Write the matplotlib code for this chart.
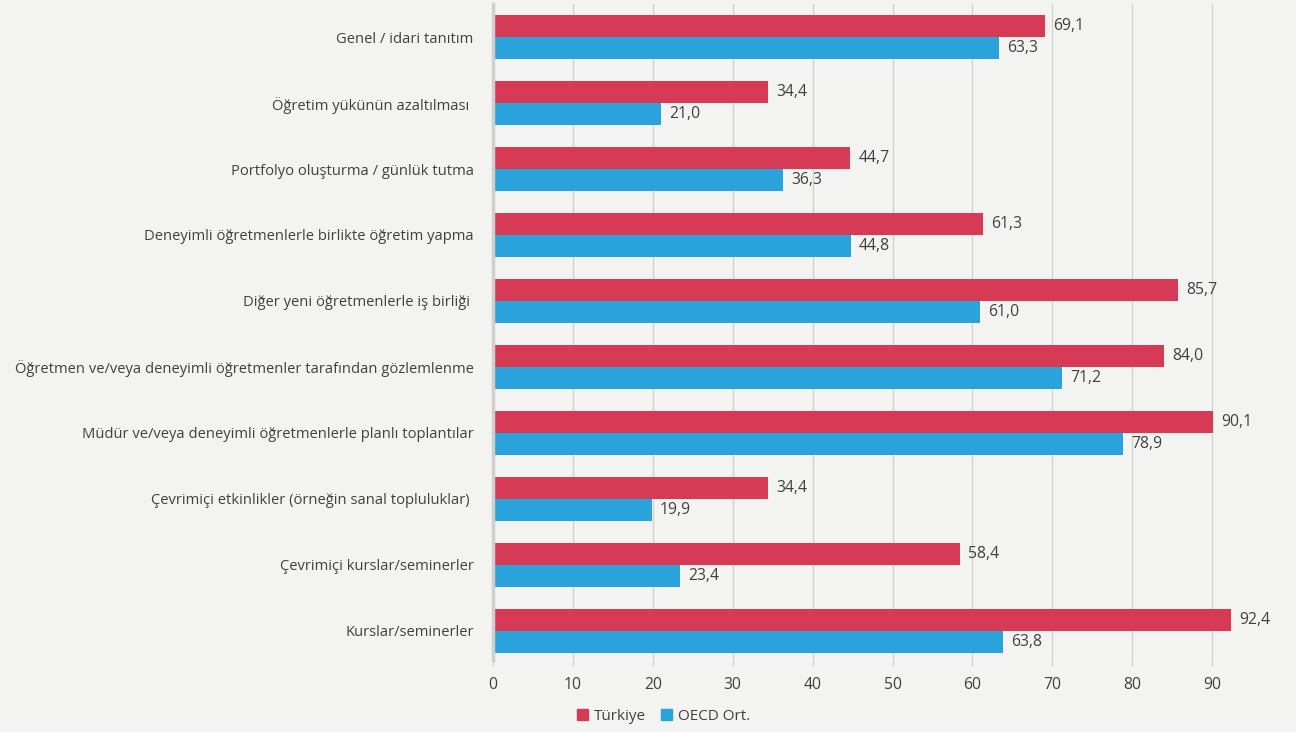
import matplotlib
matplotlib.use("Agg")
import matplotlib.pyplot as plt
from matplotlib.patches import Patch

categories = [
    "Genel / idari tanıtım",
    "Öğretim yükünün azaltılması ",
    "Portfolyo oluşturma / günlük tutma",
    "Deneyimli öğretmenlerle birlikte öğretim yapma",
    "Diğer yeni öğretmenlerle iş birliği ",
    "Öğretmen ve/veya deneyimli öğretmenler tarafından gözlemlenme",
    "Müdür ve/veya deneyimli öğretmenlerle planlı toplantılar",
    "Çevrimiçi etkinlikler (örneğin sanal topluluklar) ",
    "Çevrimiçi kurslar/seminerler",
    "Kurslar/seminerler",
]
turkiye = [69.1, 34.4, 44.7, 61.3, 85.7, 84.0, 90.1, 34.4, 58.4, 92.4]
oecd = [63.3, 21.0, 36.3, 44.8, 61.0, 71.2, 78.9, 19.9, 23.4, 63.8]
series_names = ["Türkiye", "OECD Ort."]
x_ticks = [0, 10, 20, 30, 40, 50, 60, 70, 80, 90]

RED = "#d63a55"
BLUE = "#2aa3dc"
BG = "#f3f3f1"
TXT = "#404040"
GRID = "#d2d2d2"

plt.rcParams["font.family"] = ["Open Sans", "DejaVu Sans"]

fig = plt.figure(figsize=(12.96, 7.32), dpi=100, facecolor=BG)
ax = fig.add_axes([0.3804, 0.0984, 0.6166, 0.8961], facecolor=BG)

h = 0.333
ys = list(range(len(categories)))
y_red = [y - h / 2 for y in ys]
y_blue = [y + h / 2 for y in ys]
ax.barh(y_red, turkiye, height=h, color=RED, zorder=3)
ax.barh(y_blue, oecd, height=h, color=BLUE, zorder=3)

for y, v in zip(y_red, turkiye):
    ax.text(v + 1.0, y, f"{v:.1f}".replace(".", ","), va="center", ha="left",
            fontsize=11.3, color=TXT)
for y, v in zip(y_blue, oecd):
    ax.text(v + 1.0, y, f"{v:.1f}".replace(".", ","), va="center", ha="left",
            fontsize=11.3, color=TXT)

ax.set_xlim(0, 100)
ax.set_ylim(9.44, -0.5)
ax.set_yticks(ys)
ax.set_yticklabels(categories, fontsize=10.6, color=TXT)
ax.set_xticks(x_ticks)
ax.set_xticklabels([str(t) for t in x_ticks], fontsize=11.3, color=TXT)
ax.tick_params(axis="y", length=0, pad=14)
ax.tick_params(axis="x", length=4, color=GRID, width=1, pad=8)

ax.grid(axis="x", color=GRID, linewidth=1, zorder=0)
for s in ["top", "right", "bottom"]:
    ax.spines[s].set_visible(False)
ax.spines["left"].set_color("#cfcfcf")
ax.spines["left"].set_linewidth(2.5)
ax.spines["left"].set_zorder(4)

handles = [Patch(color=RED, label=series_names[0]),
           Patch(color=BLUE, label=series_names[1])]
leg = fig.legend(handles=handles, loc="center", bbox_to_anchor=(0.512, 0.021),
                 ncol=2, frameon=False, fontsize=11, handlelength=0.7,
                 handleheight=0.7, handletextpad=0.4, columnspacing=1.0)
for t in leg.get_texts():
    t.set_color(TXT)

fig.savefig("out.png", dpi=100, facecolor=BG)
